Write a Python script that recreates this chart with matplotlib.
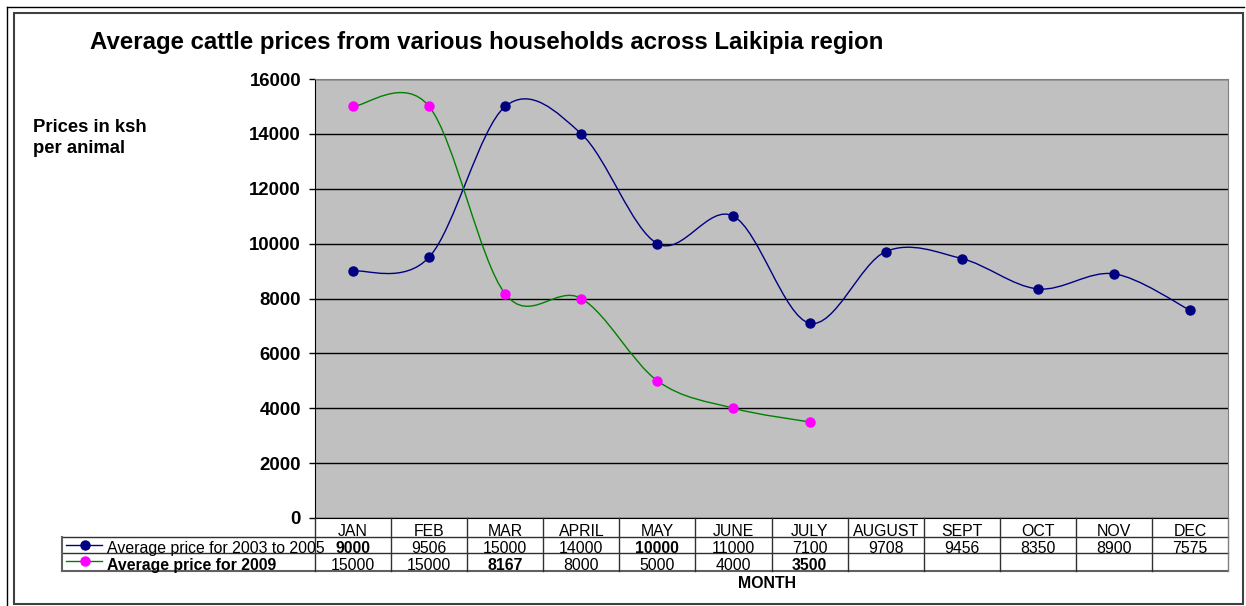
import numpy as np
import matplotlib
matplotlib.use("Agg")
import matplotlib.pyplot as plt
from matplotlib.path import Path
from matplotlib.patches import PathPatch, Rectangle
from matplotlib.lines import Line2D

plt.rcParams['font.family'] = ['Liberation Sans', 'DejaVu Sans']

# Data
months = ["JAN", "FEB", "MAR", "APRIL", "MAY", "JUNE", "JULY",
          "AUGUST", "SEPT", "OCT", "NOV", "DEC"]
avg_2003_2005 = [9000, 9506, 15000, 14000, 10000, 11000, 7100,
                 9708, 9456, 8350, 8900, 7575]
avg_2009 = [15000, 15000, 8167, 8000, 5000, 4000, 3500]
series_names = ["Average price for 2003 to 2005", "Average price for 2009"]
# cells shown in bold in the data table (row, column)
bold_cells = {(0, 0), (0, 4), (1, 2), (1, 6)}
yticks = list(range(0, 16001, 2000))

W, H = 1246, 606
fig = plt.figure(figsize=(W / 100, H / 100), dpi=100)


def fx(x):
    return x / W


def fy(y):
    return 1 - y / H


# plot area in pixels
L, R, T, B = 315, 1228, 79, 518
ax = fig.add_axes([fx(L), fy(B), fx(R) - fx(L), fy(T) - fy(B)])
ax.set_facecolor("#c0c0c0")
ax.set_xlim(-0.5, len(months) - 0.5)
ax.set_ylim(0, 16000)
ax.set_yticks(yticks)
ax.set_yticklabels([str(v) for v in yticks], fontsize=13.4, fontweight="bold")
ax.set_xticks([])
ax.tick_params(axis="y", direction="out", length=4, width=1, pad=6)
ax.grid(axis="y", color="black", lw=1)
ax.set_axisbelow(True)
for s in ["top", "right"]:
    ax.spines[s].set_color("#808080")
ax.spines["left"].set_color("black")
ax.spines["bottom"].set_color("black")


def smooth_path(vals):
    # Excel-style smoothed line: cubic Bezier through the points
    pts = np.column_stack([np.arange(len(vals)), vals]).astype(float)
    verts = [pts[0]]
    codes = [Path.MOVETO]
    n = len(pts)
    for i in range(n - 1):
        p0 = pts[i - 1] if i > 0 else pts[i]
        p1 = pts[i]
        p2 = pts[i + 1]
        p3 = pts[i + 2] if i + 2 < n else pts[i + 1]
        c1 = p1 + (p2 - p0) / 6
        c2 = p2 - (p3 - p1) / 6
        verts += [c1, c2, p2]
        codes += [Path.CURVE4] * 3
    return Path(verts, codes)


series = [(avg_2003_2005, "#000080", "#000080"),
          (avg_2009, "#008000", "#ff00ff")]
for vals, lc, mc in series:
    ax.add_patch(PathPatch(smooth_path(vals), facecolor="none", edgecolor=lc,
                           lw=1, transform=ax.transData, zorder=3))
    ax.plot(range(len(vals)), vals, ls="none", marker="o", ms=6.5,
            mfc=mc, mec=mc, zorder=4)

# data table under the plot
col_w = (R - L) / len(months)
r0, r1, r2, r3 = 518, 537, 553, 571
tl = "#303030"
tfs = 11.4
for y in [r1, r2]:
    fig.add_artist(Line2D([fx(62), fx(R)], [fy(y), fy(y)], color=tl, lw=1))
fig.add_artist(Line2D([fx(62), fx(R)], [fy(r3), fy(r3)], color="#606060", lw=1.5))
fig.add_artist(Line2D([fx(62), fx(62)], [fy(r1), fy(r3)], color="#606060", lw=1.5))
for k in range(len(months) + 1):
    x = L + k * col_w
    c = "#808080" if k == len(months) else tl
    fig.add_artist(Line2D([fx(x), fx(x)], [fy(r0), fy(r3)], color=c, lw=1))

for j, m in enumerate(months):
    xc = L + (j + 0.5) * col_w
    fig.text(fx(xc), fy(r1 + 2), m, ha="center", va="bottom", fontsize=tfs)
rows = [avg_2003_2005, avg_2009]
for i, vals in enumerate(rows):
    ybase = [r2 + 3, r3 + 2][i]
    for j, v in enumerate(vals):
        xc = L + (j + 0.5) * col_w
        fw = "bold" if (i, j) in bold_cells else "normal"
        fig.text(fx(xc), fy(ybase), str(v), ha="center", va="bottom",
                 fontsize=tfs, fontweight=fw)

# legend keys inside the table
for i, (vals, lc, mc) in enumerate(series):
    yc = [545, 561][i]
    fig.add_artist(Line2D([fx(66), fx(102)], [fy(yc), fy(yc)], color=lc, lw=1))
    fig.add_artist(Line2D([fx(85)], [fy(yc)], ls="none", marker="o", ms=6.5,
                          mfc=mc, mec=mc))
    fw = "normal" if i == 0 else "bold"
    fig.text(fx(107), fy([r2 + 3, r3 + 2][i]), series_names[i], ha="left",
             va="bottom", fontsize=tfs, fontweight=fw)

fig.text(fx(767), fy(583), "MONTH", ha="center", va="center",
         fontsize=tfs, fontweight="bold")

# titles
fig.text(fx(90), fy(42), "Average cattle prices from various households across Laikipia region",
         ha="left", va="center", fontsize=17.3, fontweight="bold")
fig.text(fx(33), fy(138), "Prices in ksh\nper animal", ha="left", va="center",
         fontsize=13.3, fontweight="bold", linespacing=1.3)

# chart frames
fig.add_artist(Line2D([fx(7), fx(7)], [fy(7), 0], color="black", lw=1))
fig.add_artist(Line2D([fx(7), fx(1244)], [fy(7), fy(7)], color="black", lw=1))
fig.add_artist(Rectangle((fx(14), fy(604)), fx(1243) - fx(14), fy(13) - fy(604),
                         transform=fig.transFigure, fill=False,
                         edgecolor="#404040", lw=1.5))

fig.savefig("out.png", dpi=100)
